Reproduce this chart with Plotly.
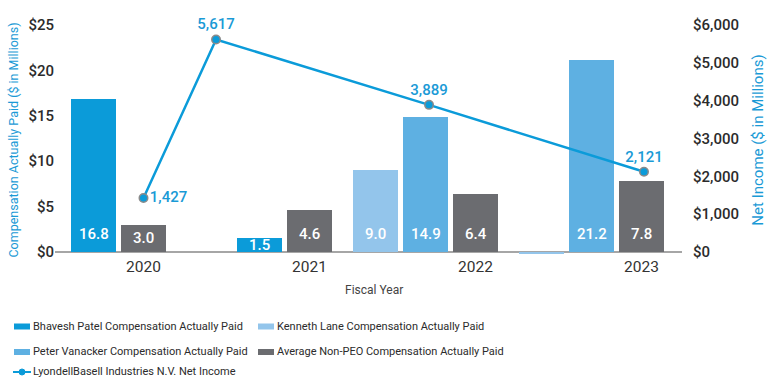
import plotly.graph_objects as go

# ---- data ($ in millions) ----
years = ["2020", "2021", "2022", "2023"]
bhavesh_patel = [16.8, 1.5, None, None]
kenneth_lane = [None, None, 9.0, -0.2]
peter_vanacker = [None, None, 14.9, 21.2]
avg_non_peo = [3.0, 4.6, 6.4, 7.8]
net_income = [1427, 5617, 3889, 2121]
comp_ticks = [0, 5, 10, 15, 20, 25]
income_ticks = [0, 1000, 2000, 3000, 4000, 5000, 6000]

# ---- geometry / style ----
W, H = 767, 380
PLOT_L, PLOT_R, PLOT_T, PLOT_B = 55, 682, 25, 255
ZERO_PX = 252                     # pixel row of the zero line
COMP_MAX, INCOME_MAX = 25, 6000
PX_PER_UNIT = (ZERO_PX - PLOT_T) / COMP_MAX
comp_min = -(PLOT_B - ZERO_PX) / PX_PER_UNIT
income_min = comp_min * INCOME_MAX / COMP_MAX

CAT_PITCH = 166.0                 # px between year ticks
FIRST_TICK_PX = 143.5
SLOT = 50 / CAT_PITCH             # bar slot pitch in category units
BAR_W = 45 / CAT_PITCH
x_range = [(PLOT_L - FIRST_TICK_PX) / CAT_PITCH, (PLOT_R - FIRST_TICK_PX) / CAT_PITCH]
line_shift = [0.0, -0.563, -0.28, 0.015]   # horizontal placement of the income markers

FONT = "Roboto"
DARK = "#2b2b2b"
BLUE_TXT = "#1a9ad6"
LEGEND_SIZE = 11

series = [
    ("Bhavesh Patel Compensation Actually Paid", bhavesh_patel, "#0b9bd9"),
    ("Kenneth Lane Compensation Actually Paid", kenneth_lane, "#93c5eb"),
    ("Peter Vanacker Compensation Actually Paid", peter_vanacker, "#5eb0e2"),
    ("Average Non-PEO Compensation Actually Paid", avg_non_peo, "#6b6c70"),
]
LINE_NAME = "LyondellBasell Industries N.V. Net Income"
LINE_COLOR = "#0b9bd9"

# pack the bars of each year side by side, ending at the year tick
positions = {name: [None] * len(years) for name, _, _ in series}
for i in range(len(years)):
    present = [name for name, vals, _ in series if vals[i] is not None]
    for k, name in enumerate(reversed(present)):
        positions[name][i] = i - k * SLOT

fig = go.Figure()
annotations = []
for name, vals, color in series:
    xs = [x for x in positions[name] if x is not None]
    ys = [v for v in vals if v is not None]
    fig.add_trace(go.Bar(
        x=xs, y=ys, width=BAR_W, name=name, marker=dict(color=color, line_width=0),
        showlegend=False, hoverinfo="skip",
    ))
    for x, v in zip(xs, ys):
        if v > 0:
            annotations.append(dict(
                x=x, y=min(2.0, v / 2), xref="x", yref="y", text=f"{v:.1f}",
                showarrow=False, xanchor="center", yanchor="middle",
                font=dict(family=FONT, size=15, color="white", weight=500),
            ))

fig.add_trace(go.Scatter(
    x=[i + s for i, s in enumerate(line_shift)], y=net_income, yaxis="y2",
    mode="lines+markers+text", name=LINE_NAME, showlegend=False,
    line=dict(color=LINE_COLOR, width=2.5),
    marker=dict(size=8.5, color=LINE_COLOR, line=dict(color="#8a8a8a", width=1.5)),
    text=[f"{v:,}" for v in net_income],
    textposition=["middle right", "top center", "top center", "top center"],
    textfont=dict(family=FONT, size=15, color=BLUE_TXT, weight=500),
    cliponaxis=False, hoverinfo="skip",
))

# ---- legend drawn below the plot ----
plot_w = PLOT_R - PLOT_L
plot_h = PLOT_B - PLOT_T


def px_x(px):
    return (px - PLOT_L) / plot_w


def px_y(py):
    return (PLOT_B - py) / plot_h


shapes = []
legend_rows = [
    (series[0], 14, 326.5), (series[1], 258, 326.5),
    (series[2], 14, 352), (series[3], 258, 352),
]
for (name, _, color), lx, ly in legend_rows:
    shapes.append(dict(type="rect", xref="paper", yref="paper",
                       x0=px_x(lx), x1=px_x(lx + 16), y0=px_y(ly - 3), y1=px_y(ly + 3),
                       fillcolor=color, line_width=0))
    annotations.append(dict(x=px_x(lx + 17), y=px_y(ly - 0.5), xref="paper", yref="paper",
                            text=name, showarrow=False, xanchor="left", yanchor="middle",
                            font=dict(family=FONT, size=LEGEND_SIZE, color=DARK)))
shapes.append(dict(type="line", xref="paper", yref="paper",
                   x0=px_x(13), x1=px_x(31), y0=px_y(372), y1=px_y(372),
                   line=dict(color=LINE_COLOR, width=2)))
shapes.append(dict(type="circle", xref="paper", yref="paper",
                   x0=px_x(19), x1=px_x(25), y0=px_y(375), y1=px_y(369),
                   fillcolor=LINE_COLOR, line=dict(color=LINE_COLOR, width=1)))
annotations.append(dict(x=px_x(31), y=px_y(371.5), xref="paper", yref="paper",
                        text=LINE_NAME, showarrow=False, xanchor="left", yanchor="middle",
                        font=dict(family=FONT, size=LEGEND_SIZE, color=DARK)))

# x-axis caption
annotations.append(dict(x=px_x(374), y=px_y(290), xref="paper", yref="paper",
                        text="Fiscal Year", showarrow=False, xanchor="center", yanchor="middle",
                        font=dict(family=FONT, size=12, color="#444444")))

fig.update_layout(
    width=W, height=H,
    margin=dict(l=PLOT_L, r=W - PLOT_R, t=PLOT_T, b=H - PLOT_B, pad=0, autoexpand=False),
    paper_bgcolor="white", plot_bgcolor="white",
    barmode="overlay", bargap=0,
    font=dict(family=FONT, color=DARK),
    xaxis=dict(
        range=x_range, tickmode="array", tickvals=list(range(len(years))), ticktext=years,
        showgrid=False, zeroline=False, showline=False, ticks="",
        tickfont=dict(family=FONT, size=15.5, color="#333333"),
        fixedrange=True, automargin=False,
    ),
    yaxis=dict(
        range=[comp_min, COMP_MAX], tickmode="array", tickvals=comp_ticks,
        ticktext=[f"${t}" for t in comp_ticks],
        showgrid=False, zeroline=True, zerolinecolor="#a6a6a6", zerolinewidth=1.5,
        showline=False, ticks="", automargin=False,
        tickfont=dict(family=FONT, size=15, color=DARK, weight=500),
        title=dict(text="Compensation Actually Paid ($ in Millions)", standoff=7,
                   font=dict(family=FONT, size=12.5, color=BLUE_TXT)),
    ),
    yaxis2=dict(
        range=[income_min, INCOME_MAX], overlaying="y", side="right",
        tickmode="array", tickvals=income_ticks,
        ticktext=[f"${t:,}" for t in income_ticks],
        showgrid=False, zeroline=False, showline=False, ticks="", automargin=False,
        ticklabelstandoff=10,
        tickfont=dict(family=FONT, size=15, color=DARK, weight=500),
        title=dict(text="Net Income ($ in Millions)", standoff=20,
                   font=dict(family=FONT, size=15, color=BLUE_TXT)),
    ),
    shapes=shapes,
    annotations=annotations,
    showlegend=False,
)

fig.write_html("out.html")
